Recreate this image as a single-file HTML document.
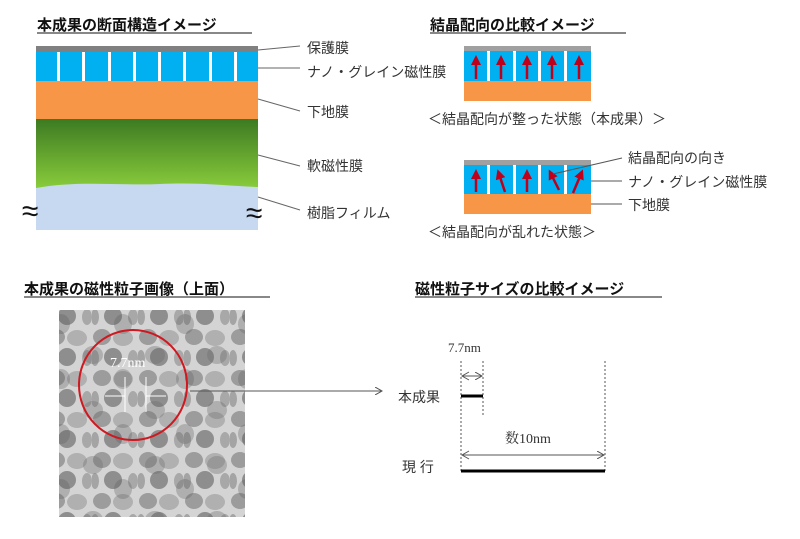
<!DOCTYPE html>
<html><head><meta charset="utf-8"><style>
html,body{margin:0;padding:0;background:#fff;width:800px;height:539px;overflow:hidden}
svg{display:block}
text{font-family:"Liberation Sans","Noto Sans CJK JP",sans-serif;fill:#333}
.t{font-weight:bold;font-size:15px;fill:#111}
.l{font-size:14px}
.s{font-family:"Liberation Serif","Noto Serif CJK SC",serif}
</style></head><body>
<svg width="800" height="539" viewBox="0 0 800 539" xmlns="http://www.w3.org/2000/svg">
<defs>
<linearGradient id="g" x1="0" y1="0" x2="0" y2="1"><stop offset="0" stop-color="#3c7a22"/><stop offset="1" stop-color="#8ccf3c"/></linearGradient>
<pattern id="gr" width="46" height="41" patternUnits="userSpaceOnUse">
<rect width="46" height="41" fill="#d4d4d4"/>
<ellipse cx="10" cy="9" rx="9" ry="8" fill="#9c9c9c"/>
<ellipse cx="31" cy="10" rx="10" ry="8" fill="#b0b0b0"/>
<ellipse cx="21" cy="29" rx="9" ry="9" fill="#8e8e8e"/>
<ellipse cx="41" cy="30" rx="5" ry="8" fill="#a8a8a8"/>
<ellipse cx="3" cy="30" rx="4" ry="8" fill="#a4a4a4"/>
</pattern>
<pattern id="gr2" width="62" height="55" patternUnits="userSpaceOnUse" x="17" y="11">
<ellipse cx="14" cy="14" rx="10" ry="9" fill="#6a6a6a" opacity="0.35"/>
<ellipse cx="44" cy="38" rx="9" ry="10" fill="#5a5a5a" opacity="0.3"/>
</pattern>
<marker id="a" markerWidth="8" markerHeight="8" refX="7" refY="4" orient="auto"><path d="M0,0 L7,4 L0,8" fill="none" stroke="#555" stroke-width="1"/></marker>
<marker id="ar" markerWidth="4" markerHeight="4" refX="2" refY="2" orient="auto"><path d="M0,0 L4,2 L0,4 z" fill="#c0001a"/></marker>
</defs>

<!-- Titles -->
<text x="37" y="30" class="t">本成果の断面構造イメージ</text><line x1="37" y1="33" x2="252" y2="33" stroke="#111"/>
<text x="430" y="30" class="t">結晶配向の比較イメージ</text><line x1="430" y1="33" x2="626" y2="33" stroke="#111"/>
<text x="24" y="294" class="t">本成果の磁性粒子画像（上面）</text><line x1="24" y1="297" x2="270" y2="297" stroke="#111"/>
<text x="415" y="294" class="t">磁性粒子サイズの比較イメージ</text><line x1="415" y1="297" x2="662" y2="297" stroke="#111"/>

<!-- Left cross section -->
<rect x="36" y="46" width="222" height="6" fill="#808080"/>
<rect x="36" y="52" width="222" height="29" fill="#00b0f0"/>
<g fill="#fff"><rect x="57" y="52" width="3" height="29"/><rect x="82" y="52" width="3" height="29"/><rect x="108" y="52" width="3" height="29"/><rect x="133" y="52" width="3" height="29"/><rect x="158" y="52" width="3" height="29"/><rect x="183" y="52" width="3" height="29"/><rect x="209" y="52" width="3" height="29"/><rect x="234" y="52" width="3" height="29"/></g>
<rect x="36" y="81" width="222" height="38" fill="#f79646"/>
<rect x="36" y="119" width="222" height="72" fill="url(#g)"/>
<path d="M36,188 C80,180 120,186 160,184 C200,182 230,186 258,187 L258,230 L36,230 Z" fill="#c6d9f1"/>
<text x="22" y="221" font-size="30" style="fill:#111">≈</text>
<text x="246" y="223" font-size="30" style="fill:#111">≈</text>
<g stroke="#666" stroke-width="1">
<line x1="258" y1="50" x2="300" y2="46"/><line x1="258" y1="68" x2="300" y2="68"/><line x1="258" y1="99" x2="300" y2="111"/><line x1="258" y1="155" x2="300" y2="166"/><line x1="258" y1="197" x2="300" y2="210"/></g>
<text x="307" y="53" class="l">保護膜</text><text x="307" y="77" class="l">ナノ・グレイン磁性膜</text><text x="307" y="117" class="l">下地膜</text><text x="307" y="171" class="l">軟磁性膜</text><text x="307" y="218" class="l">樹脂フィルム</text>

<!-- Right top -->
<rect x="464" y="46" width="127" height="5" fill="#a0a0a0"/>
<rect x="464" y="51" width="127" height="30" fill="#00b0f0"/>
<g fill="#fff"><rect x="487" y="51" width="3" height="30"/><rect x="513" y="51" width="3" height="30"/><rect x="538" y="51" width="3" height="30"/><rect x="564" y="51" width="3" height="30"/></g>
<rect x="464" y="81" width="127" height="20" fill="#f79646"/>
<g stroke="#c0001a" stroke-width="2.5" marker-end="url(#ar)">
<line x1="476" y1="79" x2="476" y2="60"/><line x1="501" y1="79" x2="501" y2="60"/><line x1="527" y1="79" x2="527" y2="60"/><line x1="552" y1="79" x2="552" y2="60"/><line x1="579" y1="79" x2="579" y2="60"/></g>
<text x="428" y="124" class="l">＜結晶配向が整った状態（本成果）＞</text>

<rect x="464" y="160" width="127" height="5" fill="#a0a0a0"/>
<rect x="464" y="165" width="127" height="29" fill="#00b0f0"/>
<g fill="#fff"><rect x="487" y="165" width="3" height="29"/><rect x="513" y="165" width="3" height="29"/><rect x="538" y="165" width="3" height="29"/><rect x="564" y="165" width="3" height="29"/></g>
<rect x="464" y="194" width="127" height="20" fill="#f79646"/>
<g stroke="#c0001a" stroke-width="2.5" marker-end="url(#ar)">
<line x1="476" y1="192" x2="476" y2="174"/><line x1="505" y1="192" x2="499" y2="174"/><line x1="527" y1="192" x2="527" y2="174"/><line x1="559" y1="190" x2="551" y2="174"/><line x1="573" y1="193" x2="581" y2="174"/></g>
<g stroke="#555"><line x1="553" y1="174" x2="622" y2="158"/><line x1="591" y1="181" x2="622" y2="181"/><line x1="591" y1="204" x2="622" y2="204"/></g>
<text x="628" y="163" class="l">結晶配向の向き</text><text x="628" y="187" class="l">ナノ・グレイン磁性膜</text><text x="628" y="210" class="l">下地膜</text>
<text x="428" y="237" class="l">＜結晶配向が乱れた状態＞</text>

<!-- Photo -->
<rect x="59" y="310" width="186" height="207" fill="url(#gr)"/>
<rect x="59" y="310" width="186" height="207" fill="url(#gr2)"/>
<ellipse cx="133" cy="385" rx="54" ry="55" fill="none" stroke="#d01820" stroke-width="2"/>
<text x="110" y="367" class="s" font-size="14" style="fill:#fff">7.7nm</text>
<g stroke="#fff" stroke-width="1"><line x1="125" y1="377" x2="125" y2="412"/><line x1="146" y1="377" x2="146" y2="412"/><line x1="105" y1="396" x2="125" y2="396"/><line x1="146" y1="396" x2="166" y2="396"/></g>
<line x1="190" y1="391" x2="382" y2="391" stroke="#555" marker-end="url(#a)"/>

<!-- Size comparison -->
<g stroke="#555" stroke-dasharray="2,2"><line x1="461" y1="361" x2="461" y2="472"/><line x1="483" y1="361" x2="483" y2="417"/><line x1="605" y1="361" x2="605" y2="472"/></g>
<text x="448" y="352" class="s" font-size="13">7.7nm</text>
<line x1="462" y1="376" x2="482" y2="376" stroke="#555" marker-end="url(#a)"/>
<path d="M469,372 L462,376 L469,380" fill="none" stroke="#555"/>
<line x1="461" y1="396" x2="483" y2="396" stroke="#000" stroke-width="3"/>
<text x="398" y="402" class="l">本成果</text>
<text x="505" y="443" class="s" font-size="14">数10nm</text>
<line x1="463" y1="455" x2="604" y2="455" stroke="#555" marker-end="url(#a)"/>
<path d="M469,451 L462,455 L469,459" fill="none" stroke="#555"/>
<text x="402" y="472" class="l">現 行</text>
<line x1="461" y1="471" x2="605" y2="471" stroke="#000" stroke-width="3"/>
</svg>
</body></html>
